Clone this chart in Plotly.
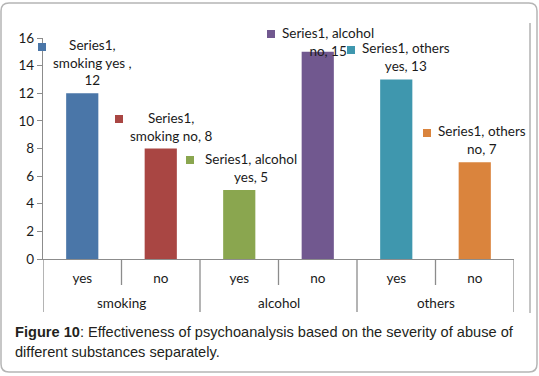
import plotly.graph_objects as go

# ---------------- data ----------------
groups = ["smoking", "alcohol", "others"]
answers = ["yes", "no"]
values = [12, 8, 5, 15, 13, 7]
series_name = "Series1"
y_ticks = [0, 2, 4, 6, 8, 10, 12, 14, 16]
label_templates = [
    "{s},<br>{g} {a} ,<br>{v}",
    "{s},<br>{g} {a}, {v}",
    "{s}, {g}<br>{a}, {v}",
    "{s}, {g}<br>{a}, {v}",
    "{s}, {g}<br>{a}, {v}",
    "{s}, {g}<br>{a}, {v}",
]
caption_bold = "Figure 10"
caption_line1 = ": Effectiveness of psychoanalysis based on the severity of abuse of"
caption_line2 = "different substances separately."

# ---------------- style ----------------
colors = ["#4A76A8", "#A94643", "#8AA64F", "#71588F", "#3F97AE", "#DA843D"]
key_dx = [-40, -42, -49, -47, -45, -48]      # pixel offset of legend key from bar centre
text_dx = [10, 10, 12, 10, 10, 7]            # pixel offset of label text from bar centre
label_cap = 14.1                              # labels pushed down when near top
W, H = 539, 376
L, R, T, B = 43, 25, 38, 117
PW, PH = W - L - R, H - T - B
AXIS_GRAY = "#8C8C8C"
TXT = "#1a1a1a"
LBL_FONT = "Lato"
LBL_SIZE = 13.5
LBL_YSHIFT = 3


def px_x(p):
    return (p - L) / PW


def px_y(p):
    return (H - B - p) / PH


cats = [(g, a) for g in groups for a in answers]
xpos = list(range(len(cats)))

fig = go.Figure()
fig.add_trace(go.Bar(
    x=xpos, y=values, marker=dict(color=colors, line=dict(width=0)),
    width=0.41, showlegend=False, hoverinfo="skip",
))

annotations = []
shapes = []

# data labels with legend keys
lh = 16.5
for i, ((g, a), v) in enumerate(zip(cats, values)):
    txt = label_templates[i].format(s=series_name, g=g, a=a, v=v)
    n = txt.count("<br>") + 1
    yv = min(v, label_cap)
    annotations.append(dict(
        x=i, y=yv, xref="x", yref="y", text=txt, showarrow=False,
        xanchor="center", yanchor="bottom", align="center",
        xshift=text_dx[i], yshift=LBL_YSHIFT,
        font=dict(family=LBL_FONT, size=LBL_SIZE, color=TXT),
    ))
    kc = LBL_YSHIFT + 2 + (n - 0.5) * lh
    annotations.append(dict(
        x=i, y=yv, xref="x", yref="y", text=" ", showarrow=False,
        xanchor="center", yanchor="middle",
        xshift=key_dx[i], yshift=kc,
        width=8, height=8, bgcolor=colors[i], borderpad=0, borderwidth=0,
        font=dict(size=1),
    ))

# category dividers
for k in range(len(cats) + 1):
    xd = k - 0.5
    long_line = (k % 2 == 0)
    shapes.append(dict(
        type="line", xref="x", yref="paper",
        x0=xd, x1=xd, y0=0, y1=px_y(312 if long_line else 285),
        line=dict(color=AXIS_GRAY, width=1.3),
    ))

# group labels
for gi, g in enumerate(groups):
    annotations.append(dict(
        x=gi * 2 + 0.5, y=px_y(303), xref="x", yref="paper",
        text=g, showarrow=False, xanchor="center", yanchor="middle",
        font=dict(family=LBL_FONT, size=LBL_SIZE, color=TXT),
    ))

# caption
annotations.append(dict(
    x=px_x(13), y=px_y(332), xref="paper", yref="paper",
    text="<b>" + caption_bold + "</b>" + caption_line1, showarrow=False,
    xanchor="left", yanchor="middle",
    font=dict(family="Liberation Sans", size=14.6, color="#231f20"),
))
annotations.append(dict(
    x=px_x(13), y=px_y(352), xref="paper", yref="paper",
    text=caption_line2, showarrow=False,
    xanchor="left", yanchor="middle",
    font=dict(family="Liberation Sans", size=14.6, color="#231f20"),
))

# outer rounded border
x0, x1, y0, y1, r = 1, 537, 3, 372, 8
path = (
    f"M {px_x(x0 + r)},{px_y(y0)} L {px_x(x1 - r)},{px_y(y0)} "
    f"Q {px_x(x1)},{px_y(y0)} {px_x(x1)},{px_y(y0 + r)} "
    f"L {px_x(x1)},{px_y(y1 - r)} Q {px_x(x1)},{px_y(y1)} {px_x(x1 - r)},{px_y(y1)} "
    f"L {px_x(x0 + r)},{px_y(y1)} Q {px_x(x0)},{px_y(y1)} {px_x(x0)},{px_y(y1 - r)} "
    f"L {px_x(x0)},{px_y(y0 + r)} Q {px_x(x0)},{px_y(y0)} {px_x(x0 + r)},{px_y(y0)} Z"
)
shapes.append(dict(type="path", xref="paper", yref="paper", path=path,
                   line=dict(color="#B5B5B5", width=1.5)))
# chart frame right edge
shapes.append(dict(type="line", xref="paper", yref="paper",
                   x0=px_x(530), x1=px_x(530), y0=px_y(23), y1=px_y(313),
                   line=dict(color="#8a8a8a", width=1)))

fig.update_layout(
    width=W, height=H,
    margin=dict(l=L, r=R, t=T, b=B, pad=0),
    paper_bgcolor="white", plot_bgcolor="white",
    bargap=0.59,
    xaxis=dict(
        range=[-0.5, len(cats) - 0.5], tickmode="array", tickvals=xpos,
        ticktext=[a for (_, a) in cats], showline=True, linecolor=AXIS_GRAY,
        linewidth=1.3, ticks="outside", ticklen=7, tickcolor="rgba(0,0,0,0)",
        showgrid=False, zeroline=False,
        tickfont=dict(family=LBL_FONT, size=LBL_SIZE, color=TXT), fixedrange=True,
    ),
    yaxis=dict(
        range=[0, 16], tickmode="array", tickvals=y_ticks,
        showline=True, linecolor=AXIS_GRAY, linewidth=1.3,
        ticks="outside", ticklen=5, tickcolor=AXIS_GRAY, tickwidth=1.3,
        showgrid=False, zeroline=False,
        tickfont=dict(family=LBL_FONT, size=LBL_SIZE, color=TXT), fixedrange=True,
    ),
    annotations=annotations, shapes=shapes,
)

fig.write_html(
    "out.html",
    config={"displayModeBar": False},
    post_script="document.body.style.margin='0';document.body.style.padding='0';",
)
